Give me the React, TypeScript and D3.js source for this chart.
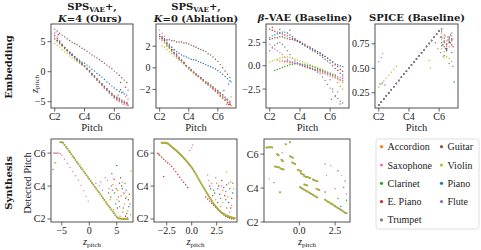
import * as d3 from "d3";

const W = 481;
const H = 250;
const SERIF = "'Liberation Serif', 'Times New Roman', serif";
const BOLD = "'DejaVu Serif', serif";
const TEXT = "#1a1a1a";
const FRAME = "#3d3d3d";

// legend order (matplotlib fills the 2-column legend column-wise)
const instruments = ["Accordion", "Saxophone", "Clarinet", "E. Piano", "Trumpet", "Guitar", "Violin", "Piano", "Flute"];
const instColors = ["#ff7f0e", "#e377c2", "#2ca02c", "#d62728", "#7f7f7f", "#8c564b", "#bcbd22", "#1f77b4", "#9467bd"];

const pitchGrid = [36, 38, 40, 42, 44, 46, 48, 50, 52, 54, 56, 58, 60, 62, 64, 66, 68, 70, 72, 74, 76, 78, 80, 82, 84, 86, 88, 90, 92, 94];
const pitchTicks = [36, 60, 84];
const pitchTickLabels = ["C2", "C4", "C6"];

type V = number | null;

// ---- Embedding: z_pitch per instrument on pitchGrid ----
const embOurs: V[][] = [
  [5.4, 5.0, 4.6, 4.2, 3.8, 3.4, 3.0, 2.7, 2.3, 1.9, 1.6, 1.2, 0.9, 0.4, 0.0, -0.5, -0.9, -1.4, -1.8, -2.2, -2.7, -3.1, -3.5, -3.9, -4.3, -4.6, -4.9, -5.1, -5.3, -5.4],
  [6.4, 5.8, 5.2, 4.6, 4.1, 3.6, 3.2, 2.8, 2.4, 2.0, 1.6, 1.2, 0.9, 0.4, 0.0, -0.5, -0.9, -1.3, -1.8, -2.3, -2.7, -3.1, -3.6, -4.0, -4.4, -4.8, -5.0, -5.2, -5.4, -5.5],
  [null, 5.2, 4.8, 4.4, 4.0, 3.6, 3.2, 2.9, 2.5, 2.1, 1.7, 1.4, 1.0, 0.6, 0.2, -0.3, -0.7, -1.2, -1.6, -2.0, -2.5, -2.9, -3.3, -3.7, -4.1, -4.3, -4.5, null, null, null],
  [6.0, 5.5, 5.0, 4.5, 4.0, 3.6, 3.2, 2.8, 2.4, 2.0, 1.6, 1.3, 0.9, 0.5, 0.1, -0.4, -0.8, -1.2, -1.7, -2.1, -2.5, -2.9, -3.3, -3.7, -4.1, -4.4, -4.7, -4.9, -5.1, -5.3],
  [null, null, null, 4.4, 4.0, 3.6, 3.2, 2.8, 2.5, 2.1, 1.7, 1.4, 1.0, 0.6, 0.2, -0.3, -0.7, -1.2, -1.6, -2.0, -2.4, -2.8, -3.2, -3.6, -4.0, -4.2, -4.4, -4.7, -4.9, -5.1],
  [7.1, 6.8, 6.4, 6.1, 5.8, 5.5, 5.2, 4.9, 4.7, 4.5, 4.2, 3.9, 3.7, 3.4, 3.1, 2.8, 2.6, 2.3, 2.0, 1.7, 1.4, 1.1, 0.8, 0.5, 0.1, -0.2, -0.6, -1.0, -1.4, -1.8],
  [4.7, 4.4, 4.1, 3.7, 3.3, 3.0, 2.6, 2.3, 2.0, 1.7, 1.4, 1.1, 0.8, 0.4, 0.0, -0.5, -0.9, -1.4, -1.8, -2.2, -2.7, -3.1, -3.5, -3.9, -4.3, -4.6, -4.8, -5.0, null, null],
  [5.6, 5.2, 4.8, 4.4, 4.0, 3.6, 3.2, 2.9, 2.5, 2.2, 1.9, 1.6, 1.4, 1.1, 0.8, 0.4, 0.1, -0.3, -0.6, -0.9, -1.3, -1.7, -2.0, -2.4, -2.7, -3.0, -3.3, -3.5, -3.7, -3.9],
  [null, null, null, null, null, null, 3.0, 2.7, 2.3, 1.9, 1.6, 1.2, 0.9, 0.4, 0.0, -0.5, -0.9, -1.4, -1.8, -2.2, -2.7, -3.1, -3.5, -3.9, -4.3, -4.5, -4.7, -4.9, -5.1, -5.2],
];
// [pitch, z, instrument]
const embOursExtra: [number, number, number][] = [
  [95, -5.6, 3], [93, -4.2, 0], [95, -4.6, 1], [91, -3.4, 5], [93, -2.6, 5], [89, -3.0, 7],
  [87, -3.9, 3], [95, -3.1, 8], [91, -5.5, 6], [89, -1.8, 5], [37, 6.6, 1], [39, 6.2, 3],
];

const embAbl: V[][] = [
  [2.7, 2.5, 2.3, 2.0, 1.8, 1.5, 1.3, 1.0, 0.8, 0.6, 0.4, 0.1, -0.1, -0.3, -0.5, -0.7, -0.8, -1.0, -1.2, -1.4, -1.6, -1.7, -1.9, -2.1, -2.3, -2.5, -2.7, -3.0, -3.2, -3.4],
  [3.5, 3.2, 2.9, 2.5, 2.2, 1.9, 1.6, 1.3, 1.0, 0.7, 0.5, 0.2, 0.0, -0.2, -0.4, -0.6, -0.8, -1.0, -1.2, -1.4, -1.6, -1.8, -2.0, -2.2, -2.4, -2.6, -2.8, -3.0, -3.2, -3.3],
  [null, 2.7, 2.5, 2.2, 1.9, 1.7, 1.4, 1.2, 0.9, 0.7, 0.5, 0.2, 0.0, -0.2, -0.4, -0.6, -0.7, -0.9, -1.1, -1.3, -1.4, -1.6, -1.8, -2.0, -2.2, -2.3, -2.6, null, null, null],
  [3.1, 2.9, 2.6, 2.3, 2.0, 1.7, 1.4, 1.2, 0.9, 0.7, 0.5, 0.2, 0.0, -0.2, -0.4, -0.6, -0.8, -1.0, -1.2, -1.4, -1.5, -1.7, -1.9, -2.1, -2.3, -2.6, -2.8, -3.0, -3.2, -3.4],
  [null, null, null, 2.1, 1.9, 1.6, 1.4, 1.1, 0.9, 0.7, 0.4, 0.2, 0.0, -0.2, -0.4, -0.6, -0.8, -0.9, -1.1, -1.3, -1.5, -1.6, -1.8, -2.0, -2.1, -2.3, -2.5, -2.7, -2.9, -3.1],
  [2.9, 2.8, 2.7, 2.6, 2.6, 2.5, 2.5, 2.4, 2.4, 2.4, 2.3, 2.3, 2.2, 2.1, 2.0, 1.9, 1.8, 1.7, 1.6, 1.5, 1.3, 1.2, 1.0, 0.8, 0.6, 0.3, 0.0, -0.3, -0.6, -0.9],
  [null, 2.0, 1.9, 1.7, 1.5, 1.3, 1.1, 0.9, 0.7, 0.5, 0.35, 0.15, -0.05, -0.25, -0.45, -0.65, -0.8, -1.0, -1.2, -1.35, -1.5, -1.7, -1.85, -2.0, -2.2, -2.4, -2.7, -3.0, -3.3, null],
  [2.9, 2.7, 2.5, 2.3, 2.1, 1.9, 1.7, 1.5, 1.35, 1.2, 1.1, 1.0, 0.9, 0.8, 0.75, 0.7, 0.6, 0.5, 0.4, 0.3, 0.2, 0.1, 0.0, -0.1, -0.25, -0.4, -0.6, -0.8, -1.0, -1.2],
  [null, null, null, null, null, null, 1.3, 1.1, 0.85, 0.65, 0.45, 0.2, 0.0, -0.2, -0.4, -0.6, -0.75, -0.95, -1.1, -1.3, -1.45, -1.6, -1.75, -1.9, -2.1, -2.3, -2.5, -2.8, -3.0, -3.2],
];
const embAblExtra: [number, number, number][] = [
  [95, -3.5, 0], [93, -3.4, 3], [95, -2.7, 6], [91, -3.4, 1], [89, -2.1, 5], [93, -1.5, 7], [95, -1.3, 7], [91, -2.9, 8],
];

const embBeta: V[][] = [
  [null, null, null, 0.6, 0.5, 0.5, 0.4, 0.4, 0.3, 0.3, 0.2, 0.2, 0.1, 0.0, -0.1, -0.2, -0.3, -0.3, -0.4, -0.5, -0.6, -0.7, -0.8, -0.9, -1.0, -1.1, -1.3, -1.4, -1.5, -1.6],
  [2.3, 2.0, 1.8, 1.6, 1.4, 1.2, 0.9, 0.7, 0.5, 0.35, 0.25, 0.2, 0.1, 0.0, -0.1, -0.2, -0.3, -0.4, -0.5, -0.6, -0.7, -0.8, -0.9, -1.0, -1.1, -1.2, -1.3, -1.4, -1.5, -1.6],
  [null, null, -0.5, -0.4, -0.3, -0.2, -0.1, 0.0, 0.1, 0.15, 0.2, 0.2, 0.2, 0.15, 0.1, 0.05, 0.0, -0.1, -0.2, -0.3, -0.4, -0.5, -0.6, -0.7, -0.8, -0.9, -1.0, null, null, null],
  [3.9, 3.8, 3.7, 3.6, 3.5, 3.4, 3.3, 3.2, 3.0, 2.9, 2.8, 2.7, 2.6, 2.4, 2.3, 2.1, 2.0, 1.8, 1.6, 1.5, 1.3, 1.1, 1.0, 0.8, 0.6, 0.4, 0.1, -0.1, -0.4, -0.6],
  [1.6, 1.9, 2.2, 2.4, 2.5, 2.3, 2.0, 1.6, 1.2, 0.8, 0.5, 0.3, 0.1, 0.0, -0.1, -0.2, -0.3, -0.4, -0.5, -0.7, -0.9, -1.2, -1.6, -2.0, -2.4, -2.8, -3.2, -3.5, -3.8, -4.0],
  [2.8, 2.9, 3.0, 3.0, 3.1, 3.1, 3.0, 2.9, 2.8, 2.8, 2.7, 2.6, 2.5, 2.3, 2.2, 2.0, 1.8, 1.6, 1.5, 1.3, 1.1, 0.9, 0.7, 0.5, 0.3, 0.0, -0.3, -0.5, -0.8, -1.0],
  [0.4, 0.5, 0.6, 0.7, 0.8, 0.9, 0.9, 0.95, 0.9, 0.8, 0.7, 0.6, 0.5, 0.4, 0.3, 0.2, 0.1, 0.0, -0.1, -0.2, -0.3, -0.4, -0.6, -0.7, -0.9, -1.0, -1.2, -1.4, -1.6, -1.8],
  [3.0, 3.2, 3.3, 3.4, 3.5, 3.6, 3.6, 3.5, 3.3, 3.1, 2.9, 2.7, 2.5, 2.3, 2.1, 2.0, 1.9, 1.8, 1.7, 1.5, 1.4, 1.2, 1.0, 0.8, 0.6, 0.4, 0.2, 0.1, 0.0, -0.1],
  [null, null, null, null, null, null, 0.5, 0.5, 0.4, 0.4, 0.3, 0.3, 0.2, 0.1, 0.0, -0.1, -0.2, -0.3, -0.4, -0.4, -0.5, -0.6, -0.7, -0.8, -0.9, -1.0, -1.1, -1.2, -1.3, -1.4],
];
const embBetaExtra: [number, number, number][] = [
  [84, -1.5, 4], [86, -2.5, 4], [88, -3.3, 4], [90, -2.8, 4], [92, -4.1, 4], [85, -3.6, 4], [92, -2.2, 6],
  [94, -2.5, 6], [44, 3.9, 7], [52, 3.8, 7], [38, 4.1, 3], [90, -1.8, 0], [94, -1.2, 1],
];

const embSpice: V[][] = [
  [0.125, 0.156, 0.188, 0.219, 0.251, 0.282, 0.313, 0.345, 0.376, 0.408, 0.439, 0.470, 0.502, 0.533, 0.565, 0.596, 0.627, 0.659, 0.690, 0.722, 0.753, 0.784, 0.816, 0.847, 0.879, 0.86, 0.77, 0.72, 0.80, 0.74],
  [0.125, 0.156, 0.188, 0.219, 0.251, 0.282, 0.313, 0.345, 0.376, 0.408, 0.439, 0.470, 0.502, 0.533, 0.565, 0.596, 0.627, 0.659, 0.690, 0.722, 0.753, 0.784, 0.816, 0.847, 0.879, 0.80, 0.67, 0.78, 0.72, 0.83],
  [0.125, 0.156, 0.188, 0.219, 0.251, 0.282, 0.313, 0.345, 0.376, 0.408, 0.439, 0.470, 0.502, 0.533, 0.565, 0.596, 0.627, 0.659, 0.690, 0.722, 0.753, 0.784, 0.816, 0.847, 0.879, 0.88, 0.76, 0.70, 0.80, 0.78],
  [0.125, 0.156, 0.188, 0.219, 0.251, 0.282, 0.313, 0.345, 0.376, 0.408, 0.439, 0.470, 0.502, 0.533, 0.565, 0.596, 0.627, 0.659, 0.690, 0.722, 0.753, 0.784, 0.816, 0.847, 0.879, 0.82, 0.78, 0.74, 0.82, 0.80],
  [0.125, 0.156, 0.188, 0.219, 0.251, 0.282, 0.313, 0.345, 0.376, 0.408, 0.439, 0.470, 0.502, 0.533, 0.565, 0.596, 0.627, 0.659, 0.690, 0.722, 0.753, 0.784, 0.816, 0.847, 0.879, 0.90, 0.63, 0.69, 0.55, 0.74],
  [0.125, 0.156, 0.188, 0.219, 0.251, 0.282, 0.313, 0.345, 0.376, 0.408, 0.439, 0.470, 0.502, 0.533, 0.565, 0.596, 0.627, 0.659, 0.690, 0.722, 0.753, 0.784, 0.816, 0.847, 0.879, 0.73, 0.81, 0.68, 0.76, 0.79],
  [0.31, 0.34, 0.37, 0.40, 0.43, 0.46, 0.49, 0.52, 0.376, 0.408, 0.439, 0.470, 0.502, 0.533, 0.565, 0.596, 0.627, 0.659, 0.690, 0.722, 0.753, 0.784, 0.816, 0.847, 0.879, 0.70, 0.61, 0.62, 0.60, 0.57],
  [0.125, 0.156, 0.188, 0.219, 0.251, 0.282, 0.313, 0.345, 0.376, 0.408, 0.439, 0.470, 0.502, 0.533, 0.565, 0.596, 0.627, 0.659, 0.690, 0.722, 0.753, 0.784, 0.816, 0.847, 0.879, 0.76, 0.72, 0.70, 0.77, 0.66],
  [0.125, 0.156, 0.188, 0.219, 0.251, 0.282, 0.313, 0.345, 0.376, 0.408, 0.439, 0.470, 0.502, 0.533, 0.565, 0.596, 0.627, 0.659, 0.690, 0.722, 0.753, 0.784, 0.816, 0.847, 0.879, 0.905, 0.84, 0.75, 0.78, 0.86],
];
const embSpiceExtra: [number, number, number][] = [
  [37, 0.34, 8], [39, 0.35, 8], [41, 0.33, 8], [36, 0.57, 1], [38, 0.61, 1], [39, 0.65, 1], [76, 0.58, 6],
  [77, 0.50, 6], [96, 0.36, 7], [81, 0.76, 8], [83, 0.70, 1], [85, 0.66, 4], [87, 0.74, 3], [89, 0.83, 0],
  [91, 0.79, 2], [93, 0.84, 7], [95, 0.72, 5], [95, 0.52, 4], [89, 0.70, 5], [91, 0.82, 8], [93, 0.76, 3],
  [87, 0.62, 6], [85, 0.82, 2], [95, 0.80, 1],
];

// ---- Synthesis: [z_pitch, detected pitch] ----
const synOursMain: [number, number][] = [
  [-5.25, 92], [-5.0, 92], [-4.75, 91.5], [-4.5, 90.1], [-4.25, 88.7], [-4.0, 87.3], [-3.75, 85.9], [-3.5, 84.6],
  [-3.25, 83.2], [-3.0, 81.8], [-2.75, 80.4], [-2.5, 79.0], [-2.25, 77.6], [-2.0, 76.2], [-1.75, 74.8], [-1.5, 73.4],
  [-1.25, 72.1], [-1.0, 70.7], [-0.75, 69.3], [-0.5, 67.9], [-0.25, 66.5], [0, 65.1], [0.25, 63.7], [0.5, 62.3],
  [0.75, 60.9], [1.0, 59.5], [1.25, 58.2], [1.5, 56.8], [1.75, 55.4], [2.0, 54.0], [2.25, 52.6], [2.5, 51.2],
  [2.75, 49.8], [3.0, 48.4], [3.25, 47.0], [3.5, 45.7], [3.75, 44.3], [4.0, 42.9], [4.25, 41.5], [4.5, 40.1],
  [4.75, 38.7], [5.0, 37.5], [5.25, 36.6], [5.5, 36.3], [5.75, 36.2], [6.0, 36.1], [6.25, 36.0], [6.5, 36.0],
  [6.75, 36.0], [7.0, 36.0],
];
const synOursSecond: [number, number][] = [
  [-6.5, 84], [-6.25, 84], [-6.0, 84], [-5.75, 84], [-5.5, 84], [-5.25, 83.5], [-5.0, 82.5], [-4.5, 79.5],
  [-4.0, 76.5], [-3.5, 73.5], [-3.0, 70.5], [-2.5, 67.5], [-2.0, 64.2], [-1.5, 60.5], [-1.0, 56.5], [-0.6, 52.5], [-0.2, 49],
];
// [z, pitch, instrument]
const synOursScatter: [number, number, number][] = [
  [-6.4, 84.2, 6], [-6.1, 84.2, 6], [-5.8, 84.1, 6], [-6.3, 77, 6], [-6.1, 77, 6], [-6.6, 72, 4],
  [1.2, 62, 1], [1.8, 60, 1], [2.4, 57, 1], [2.9, 66, 1], [3.3, 64, 1], [3.6, 58, 1], [2.1, 63, 1],
  [4.1, 69, 2], [4.6, 55, 2], [5.4, 49, 2], [6.2, 44, 2], [6.8, 40, 2], [3.9, 52, 2],
  [5.0, 75, 7], [5.5, 62, 7], [6.0, 58, 7], [6.6, 51, 7], [4.8, 47, 7], [7.2, 45, 7],
  [4.3, 61, 0], [5.2, 57, 0], [5.8, 53, 0], [6.4, 47, 0], [7.0, 42, 0], [3.8, 50, 0], [6.9, 37, 0], [5.6, 38, 0],
  [4.5, 65, 3], [5.9, 60, 3], [6.3, 55, 3], [7.1, 50, 3], [5.1, 44, 3], [6.6, 38, 3],
  [4.9, 58, 5], [5.7, 66, 5], [6.1, 41, 5], [7.3, 54, 5], [3.5, 55, 5],
  [4.2, 57, 8], [5.3, 52, 8], [6.7, 57, 8], [7.4, 47, 8],
  [4.0, 60, 4], [5.5, 45, 4], [6.5, 62, 4], [7.5, 39, 4],
  [5.0, 50, 6], [6.0, 63, 6], [6.8, 52, 6], [4.4, 43, 6], [7.6, 71, 6],
];

const synAblMain: [number, number][] = [
  [-3.0, 91.6], [-2.9, 91.6], [-2.8, 91.6], [-2.7, 91.6], [-2.6, 91.5], [-2.5, 91.4], [-2.4, 91.0], [-2.3, 90.4],
  [-2.2, 89.8], [-2.1, 89.2], [-2.0, 88.6], [-1.9, 88.0], [-1.8, 87.4], [-1.7, 86.8], [-1.6, 86.2], [-1.5, 85.5],
  [-1.4, 84.9], [-1.3, 84.2], [-1.2, 83.5], [-1.1, 82.8], [-1.0, 82.1], [-0.9, 81.3], [-0.8, 80.5], [-0.7, 79.7],
  [-0.6, 78.9], [-0.5, 78.0], [-0.4, 77.1], [-0.3, 76.2], [-0.2, 75.3], [-0.1, 74.4], [0.0, 73.5], [0.1, 72.4],
  [0.2, 71.2], [0.3, 70.0], [0.4, 68.8], [0.5, 67.6], [0.6, 66.3], [0.7, 65.0], [0.8, 63.7], [0.9, 62.4],
  [1.0, 61.1], [1.1, 59.8], [1.2, 58.6], [1.3, 57.4], [1.4, 56.2], [1.5, 55.0], [1.6, 53.8], [1.7, 52.6],
  [1.8, 51.4], [1.9, 50.3], [2.0, 49.2], [2.1, 48.1], [2.2, 47.0], [2.3, 46.0], [2.4, 45.1], [2.5, 44.2],
  [2.6, 43.4], [2.7, 42.6], [2.8, 41.9], [2.9, 41.2], [3.0, 40.6], [3.1, 40.1], [3.2, 39.6], [3.3, 39.2],
  [3.4, 38.8], [3.5, 38.4], [3.6, 38.1], [3.7, 37.8], [3.8, 37.5], [3.9, 37.3], [4.0, 37.1], [4.1, 36.9],
  [4.2, 36.7], [4.3, 36.5],
];
const synAblSecond: [number, number][] = [
  [-3.4, 84], [-3.3, 83.3], [-3.2, 82.5], [-3.0, 81], [-2.8, 79.5], [-2.6, 78.2], [-2.4, 77], [-2.2, 76],
  [-2.0, 74.5], [-1.8, 72.5], [-1.6, 70.5], [-1.4, 68.5], [-1.2, 66.5], [-1.0, 64.5], [-0.8, 62.8], [-0.6, 61],
  [-0.4, 59], [1.4, 52], [1.6, 50.5], [1.8, 49], [2.0, 47.5], [2.2, 46], [2.4, 44.5], [2.6, 43], [2.8, 41.5],
  [3.0, 40.2], [3.2, 39], [3.4, 38], [3.6, 37.2], [3.8, 36.6], [4.0, 36.2], [4.2, 35.9],
];
const synAblScatter: [number, number, number][] = [
  [2.0, 62, 1], [2.4, 66, 1], [1.6, 68, 1], [3.0, 60, 1], [0.0, 88, 1], [0.1, 90, 1], [-0.2, 86, 1], [-2.8, 67, 3],
  [2.2, 57, 2], [2.8, 54, 2], [3.4, 50, 2], [3.8, 58, 2], [2.6, 48, 2],
  [2.5, 62, 0], [3.1, 57, 0], [3.6, 52, 0], [4.0, 46, 0], [2.9, 45, 0], [3.9, 63, 0],
  [2.3, 55, 7], [3.2, 59, 7], [3.7, 48, 7], [4.1, 55, 7], [1.9, 58, 7],
  [2.7, 60, 3], [3.3, 53, 3], [3.9, 44, 3], [1.8, 60, 3],
  [3.0, 64, 5], [3.5, 61, 5], [4.0, 51, 5], [2.1, 53, 5],
  [2.6, 58, 8], [3.4, 56, 8], [3.8, 41, 8],
  [2.4, 50, 6], [3.1, 48, 6], [3.7, 62, 6], [4.2, 58, 6], [1.7, 64, 6], [3.5, 70, 6],
  [2.9, 51, 4], [3.5, 44, 4], [4.1, 62, 4],
];

const synBetaMain: [number, number][] = [
  [-2.3, 88.7], [-2.2, 88.7], [-2.1, 88.8], [-2.0, 88.8], [-1.9, 88.7],
  [-1.55, 84], [-1.5, 83.6], [-1.45, 83.2], [-1.25, 80], [-1.2, 79.5], [-1.15, 79],
  [-1.7, 75.2], [-1.6, 75], [-1.5, 74.8], [-1.4, 74.6], [-1.3, 73.8], [-1.2, 73.5], [-1.1, 73.2],
  [-0.95, 91], [-0.65, 92.4], [-0.65, 82.5], [-0.55, 82], [-0.45, 81.5], [-0.5, 78], [-0.4, 77.5], [-0.3, 77],
  [-0.1, 73], [0.0, 72.5], [0.1, 72], [0.1, 70.5], [0.2, 70], [0.3, 69.5],
  [0.35, 68.3], [0.45, 68], [0.55, 67.8], [0.65, 67.5], [0.75, 67.2],
  [0.95, 66], [1.05, 65.6], [1.15, 65.2], [1.25, 64.8], [1.2, 59.5], [1.3, 59], [1.4, 58.6],
  [0.35, 62.5], [0.45, 62.2], [0.55, 61.8], [-1.35, 57],
  [0.05, 60.6], [0.15, 60], [0.25, 59.4], [0.35, 58.8], [0.45, 58.2], [0.55, 57.6], [0.65, 57], [0.75, 56.4],
  [0.85, 55.8], [0.95, 55.2], [1.05, 54.6], [1.15, 54], [1.25, 53.4],
  [1.8, 51.7], [1.9, 51.1], [2.0, 50.4], [2.1, 49.8], [2.2, 49.1], [2.3, 48.5], [2.4, 47.8], [2.5, 47.2],
  [2.6, 46.5], [2.7, 45.9], [2.8, 45.2], [2.9, 44.6], [3.0, 43.9], [3.1, 43.3], [3.2, 42.6], [3.3, 42.1],
];
const synBetaScatter: [number, number, number][] = [
  [-2.1, 66.5, 1], [-1.77, 64, 8], [-1.2, 85, 1], [1.8, 77, 8], [2.2, 75.8, 1], [2.7, 72.3, 5], [2.95, 68.8, 1],
  [1.9, 68.8, 1], [3.1, 60.6, 8], [2.5, 59.5, 1], [2.7, 52.6, 2], [3.3, 51.4, 2], [1.8, 57.2, 3], [3.2, 65, 8],
  [3.3, 56, 1], [2.9, 47, 7],
];

// ---------------------------------------------------------------------------

type Layer = { color: string; r: number; pts: [number, number][] };
type Panel = {
  x0: number; y0: number; w: number; h: number;
  xDomain: [number, number]; yDomain: [number, number];
  xTicks: number[]; xLabels: string[];
  yTicks: number[]; yLabels: string[];
  layers: Layer[];
};

const R = 0.72;

function embLayers(series: V[][], extra: [number, number, number][]): Layer[] {
  const layers: Layer[] = series.map((vals, i) => ({
    color: instColors[i],
    r: R,
    pts: vals.flatMap((v, j) => (v == null ? [] : [[pitchGrid[j], v] as [number, number]])),
  }));
  extra.forEach(([p, z, i]) => layers.push({ color: instColors[i], r: R, pts: [[p, z]] }));
  return layers;
}

function synLayers(main: [number, number][], second: [number, number][], secondInst: number, scatter: [number, number, number][]): Layer[] {
  const layers: Layer[] = [];
  scatter.forEach(([z, p, i]) => layers.push({ color: instColors[i], r: R, pts: [[z, p]] }));
  if (second.length) layers.push({ color: instColors[secondInst], r: R, pts: second });
  layers.push({ color: "#8f8f45", r: 1.0, pts: main });
  layers.push({ color: instColors[6], r: 0.65, pts: main });
  return layers;
}

const fmt = (v: number) => (v < 0 ? "\u2212" : "") + Math.abs(v).toString();
const fmt1 = (v: number) => (v < 0 ? "\u2212" : "") + Math.abs(v).toFixed(1);
const fmt2 = (v: number) => Math.abs(v).toFixed(2);

const panels: Panel[] = [
  {
    x0: 51, y0: 24, w: 82, h: 84, xDomain: [33, 99], yDomain: [-6.05, 7.95],
    xTicks: pitchTicks, xLabels: pitchTickLabels, yTicks: [-5, 0, 5], yLabels: [-5, 0, 5].map(fmt),
    layers: embLayers(embOurs, embOursExtra),
  },
  {
    x0: 156, y0: 24, w: 80, h: 84, xDomain: [33, 99], yDomain: [-3.72, 4.06],
    xTicks: pitchTicks, xLabels: pitchTickLabels, yTicks: [-2, 0, 2], yLabels: [-2, 0, 2].map(fmt),
    layers: embLayers(embAbl, embAblExtra),
  },
  {
    x0: 266, y0: 24, w: 83, h: 84, xDomain: [33, 99], yDomain: [-4.53, 4.47],
    xTicks: pitchTicks, xLabels: pitchTickLabels, yTicks: [-2.5, 0, 2.5], yLabels: [-2.5, 0, 2.5].map(fmt1),
    layers: embLayers(embBeta, embBetaExtra),
  },
  {
    x0: 375, y0: 24, w: 83, h: 84, xDomain: [33, 99], yDomain: [0.095, 0.952],
    xTicks: pitchTicks, xLabels: pitchTickLabels, yTicks: [0.25, 0.5, 0.75], yLabels: [0.25, 0.5, 0.75].map(fmt2),
    layers: embLayers(embSpice, embSpiceExtra),
  },
  {
    x0: 51, y0: 139, w: 82, h: 83, xDomain: [-6.96, 7.95], yDomain: [33.8, 94.3],
    xTicks: [-5, 0, 5], xLabels: [-5, 0, 5].map(fmt), yTicks: pitchTicks, yLabels: pitchTickLabels,
    layers: synLayers(synOursMain, synOursSecond, 1, synOursScatter),
  },
  {
    x0: 154, y0: 139, w: 83, h: 83, xDomain: [-3.77, 4.53], yDomain: [33.8, 94.3],
    xTicks: [-2.5, 0, 2.5], xLabels: [-2.5, 0, 2.5].map(fmt1), yTicks: pitchTicks, yLabels: pitchTickLabels,
    layers: synLayers(synAblMain, synAblSecond, 3, synAblScatter),
  },
  {
    x0: 264, y0: 139, w: 86, h: 83, xDomain: [-2.47, 3.54], yDomain: [36, 94.7],
    xTicks: [0, 2.5], xLabels: [0, 2.5].map(fmt1), yTicks: pitchTicks, yLabels: pitchTickLabels,
    layers: synLayers(synBetaMain, [], 6, synBetaScatter),
  },
];

function PanelView({ p }: { p: Panel }) {
  const x = d3.scaleLinear().domain(p.xDomain).range([p.x0, p.x0 + p.w]);
  const y = d3.scaleLinear().domain(p.yDomain).range([p.y0 + p.h, p.y0]);
  const bottom = p.y0 + p.h;
  return (
    <g>
      <clipPath id={`clip-${p.x0}-${p.y0}`}>
        <rect x={p.x0} y={p.y0} width={p.w} height={p.h} />
      </clipPath>
      <g clipPath={`url(#clip-${p.x0}-${p.y0})`}>
        {p.layers.map((l, li) =>
          l.pts.map((pt, k) => <circle key={`${li}-${k}`} cx={x(pt[0])} cy={y(pt[1])} r={l.r} fill={l.color} />)
        )}
      </g>
      <rect x={p.x0} y={p.y0} width={p.w} height={p.h} fill="none" stroke={FRAME} strokeWidth={0.9} />
      {p.xTicks.map((t, i) => (
        <g key={`xt${i}`}>
          <line x1={x(t)} x2={x(t)} y1={bottom} y2={bottom + 3.5} stroke={FRAME} strokeWidth={0.8} />
          <text x={x(t)} y={bottom + 12} textAnchor="middle" fontFamily={SERIF} fontSize={10} fill={TEXT}>
            {p.xLabels[i]}
          </text>
        </g>
      ))}
      {p.yTicks.map((t, i) => (
        <g key={`yt${i}`}>
          <line x1={p.x0 - 3.5} x2={p.x0} y1={y(t)} y2={y(t)} stroke={FRAME} strokeWidth={0.8} />
          <text x={p.x0 - 5.5} y={y(t) + 3.5} textAnchor="end" fontFamily={SERIF} fontSize={10} fill={TEXT}>
            {p.yLabels[i]}
          </text>
        </g>
      ))}
    </g>
  );
}

function ZPitch({ x, y, rotate }: { x: number; y: number; rotate?: boolean }) {
  return (
    <text
      x={x}
      y={y}
      textAnchor="middle"
      fontFamily={SERIF}
      fontSize={10.5}
      fill={TEXT}
      transform={rotate ? `rotate(-90 ${x} ${y})` : undefined}
    >
      <tspan fontStyle="italic">z</tspan>
      <tspan fontSize={7} dy={1.8}>pitch</tspan>
    </text>
  );
}

export default function App() {
  const titleProps = { fontFamily: BOLD, fontWeight: "bold" as const, fontSize: 10, fill: TEXT, textAnchor: "middle" as const };
  const top = panels.slice(0, 4);
  const bot = panels.slice(4);
  return (
    <svg width={W} height={H} style={{ position: "absolute", left: 0, top: 0, background: "#fff" }}>
      <rect width={W} height={H} fill="#fff" />

      {/* column titles */}
      <text x={92} y={10} {...titleProps}>
        SPS<tspan fontSize={7} dy={1.5}>VAE</tspan>
        <tspan dy={-1.5}>+,</tspan>
      </text>
      <text x={90} y={21.5} {...titleProps}>
        <tspan fontStyle="italic">K</tspan>=4 (Ours)
      </text>
      <text x={196} y={10} {...titleProps}>
        SPS<tspan fontSize={7} dy={1.5}>VAE</tspan>
        <tspan dy={-1.5}>+,</tspan>
      </text>
      <text x={196} y={21.5} {...titleProps}>
        <tspan fontStyle="italic">K</tspan>=0 (Ablation)
      </text>
      <text x={305} y={20.5} {...titleProps}>
        <tspan fontStyle="italic">β</tspan>-VAE (Baseline)
      </text>
      <text x={417} y={20.5} {...titleProps}>
        SPICE (Baseline)
      </text>

      {/* row labels */}
      <text x={11.5} y={67} transform="rotate(-90 11.5 67)" {...titleProps}>
        Embedding
      </text>
      <text x={11.5} y={183} transform="rotate(-90 11.5 183)" {...titleProps}>
        Synthesis
      </text>

      {panels.map((p, i) => (
        <PanelView key={i} p={p} />
      ))}

      {/* axis labels */}
      {top.map((p, i) => (
        <text key={`pl${i}`} x={p.x0 + p.w / 2} y={131} textAnchor="middle" fontFamily={SERIF} fontSize={10.5} fill={TEXT}>
          Pitch
        </text>
      ))}
      <ZPitch x={37.5} y={84} rotate />
      <text x={31} y={183} transform="rotate(-90 31 183)" textAnchor="middle" fontFamily={SERIF} fontSize={10.5} fill={TEXT}>
        Detected Pitch
      </text>
      {bot.map((p, i) => (
        <ZPitch key={`zl${i}`} x={p.x0 + p.w / 2} y={245} />
      ))}

      {/* legend */}
      <rect x={376} y={139} width={103} height={90} rx={2.5} fill="#fff" stroke="#d6d6d6" strokeWidth={0.8} />
      {instruments.map((name, i) => {
        const col = i < 5 ? 0 : 1;
        const row = i < 5 ? i : i - 5;
        const lx = col === 0 ? 381.5 : 441.5;
        const ly = 146.7 + row * 18.3;
        return (
          <g key={name}>
            <circle cx={lx} cy={ly} r={1.6} fill={instColors[i]} />
            <text x={lx + 6} y={ly + 3.5} fontFamily={SERIF} fontSize={10} fill={TEXT}>
              {name}
            </text>
          </g>
        );
      })}
    </svg>
  );
}
